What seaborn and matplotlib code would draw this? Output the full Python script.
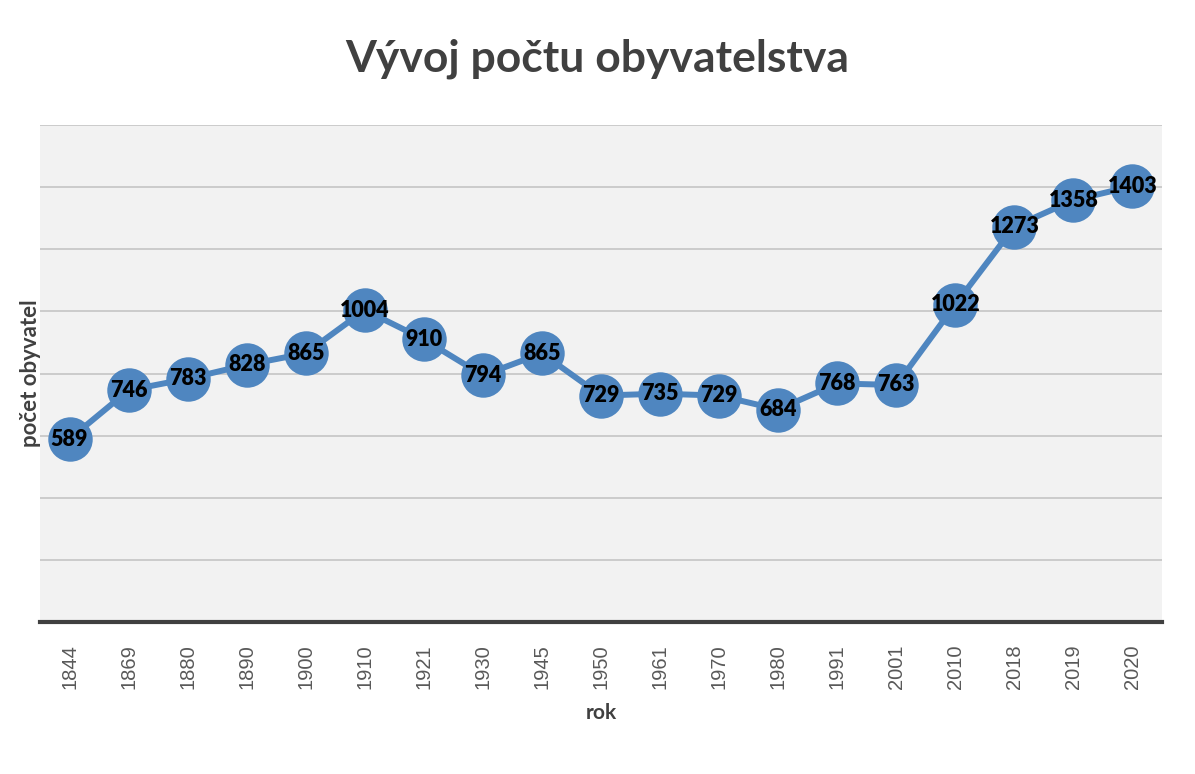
import numpy as np
import pandas as pd
import matplotlib.pyplot as plt
import seaborn as sns

years = ["1844", "1869", "1880", "1890", "1900", "1910", "1921", "1930", "1945", "1950",
         "1961", "1970", "1980", "1991", "2001", "2010", "2018", "2019", "2020"]
population = [589, 746, 783, 828, 865, 1004, 910, 794, 865, 729,
              735, 729, 684, 768, 763, 1022, 1273, 1358, 1403]

df = pd.DataFrame({"rok": years, "obyvatel": population})
df["pos"] = np.arange(len(df))

sns.set_style("white")
plt.rcParams['font.family'] = ['Lato', 'DejaVu Sans']

fig = plt.figure(figsize=(11.95, 7.74), dpi=100)
ax = fig.add_axes([40 / 1195, 1 - 622 / 774, 1122 / 1195, 497 / 774])
ax.set_facecolor('#F2F2F2')

blue = '#4F86C0'
sns.lineplot(data=df, x="pos", y="obyvatel", ax=ax, color=blue, linewidth=4.3,
             marker='o', markersize=32, markeredgewidth=0, markerfacecolor=blue, zorder=3)

for x, y in zip(df["pos"], df["obyvatel"]):
    ax.text(x, y, str(y), ha='center', va='center', fontsize=15.5,
            fontweight='heavy', color='black', zorder=4)

ax.set_xlim(-0.5, len(df) - 0.5)
ax.set_ylim(0, 1600)
ax.set_yticks(np.arange(200, 1601, 200))
ax.yaxis.grid(True, color='#C8C8C8', linewidth=1.3)
ax.set_axisbelow(True)
ax.tick_params(axis='y', left=False, labelleft=False)

ax.set_xticks(df["pos"])
ax.set_xticklabels(df["rok"], rotation=90, fontsize=14.5, color='#595959',
                   family=['Liberation Sans', 'DejaVu Sans'])
ax.tick_params(axis='x', length=0, pad=16)

for s in ['top', 'right', 'left']:
    ax.spines[s].set_visible(False)
ax.spines['bottom'].set_color('#404040')
ax.spines['bottom'].set_linewidth(3)

ax.set_xlabel("rok", fontsize=15, fontweight='bold', color='#404040', labelpad=10)
ax.set_ylabel("počet obyvatel", fontsize=16, fontweight='bold', color='#404040')
ax.yaxis.set_label_coords(0.001, 0.5)

fig.suptitle("Vývoj počtu obyvatelstva", fontsize=32, fontweight='bold',
             color='#404040', y=0.95)

fig.savefig("out.png", dpi=100)
